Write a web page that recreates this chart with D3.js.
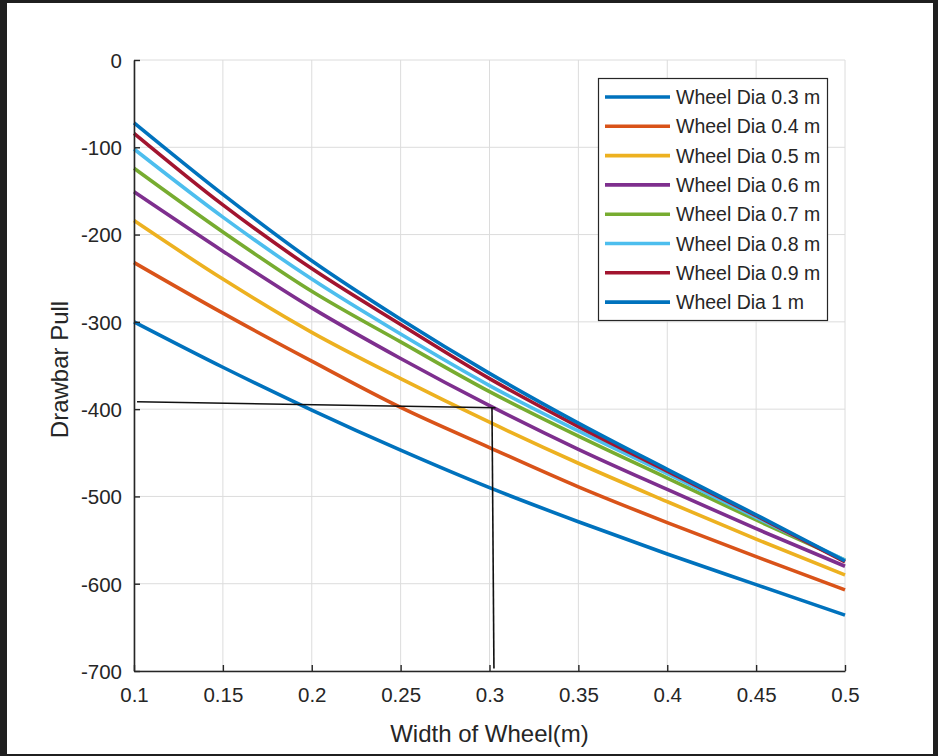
<!DOCTYPE html>
<html>
<head>
<meta charset="utf-8">
<script src="https://cdn.jsdelivr.net/npm/d3@7"></script>
<style>
html,body{margin:0;padding:0;background:#1f1f1f;}
svg{display:block;}
text{font-family:"Liberation Sans",Arial,sans-serif;fill:#262626;}
</style>
</head>
<body>
<svg id="chart" width="938" height="756"></svg>
<script>
// ---- data ----
const widths = [0.1, 0.15, 0.2, 0.25, 0.3, 0.35, 0.4, 0.45, 0.5];
const seriesNames = ["Wheel Dia 0.3 m","Wheel Dia 0.4 m","Wheel Dia 0.5 m","Wheel Dia 0.6 m","Wheel Dia 0.7 m","Wheel Dia 0.8 m","Wheel Dia 0.9 m","Wheel Dia 1 m"];
const dia03 = [-300, -352, -401, -447, -490, -529, -566, -601, -636];
const dia04 = [-232, -290, -345, -398, -444, -489, -530, -569, -607];
const dia05 = [-184, -251, -312, -365, -415, -462, -506, -549, -590];
const dia06 = [-151, -219, -284, -342, -396, -446, -492, -537, -580];
const dia07 = [-124, -197, -265, -323, -380, -431, -479, -527, -573];
const dia08 = [-102, -180, -251, -314, -373, -425, -474, -524, -573];
const dia09 = [-84, -166, -239, -303, -365, -420, -471, -522, -575];
const dia10 = [-72, -154, -230, -297, -359, -416, -469, -521, -574];
const seriesValues = [dia03, dia04, dia05, dia06, dia07, dia08, dia09, dia10];
const xTicks = [0.1, 0.15, 0.2, 0.25, 0.3, 0.35, 0.4, 0.45, 0.5];
const xTickLabels = ["0.1","0.15","0.2","0.25","0.3","0.35","0.4","0.45","0.5"];
const yTicks = [0, -100, -200, -300, -400, -500, -600, -700];
const yTickLabels = ["0","-100","-200","-300","-400","-500","-600","-700"];
// annotation guide lines (data coordinates)
const guideH = [[0.1017, -391.5], [0.3034, -398.4]];
const guideV = [[0.3014, -398.0], [0.3025, -697.0]];
const xLabel = "Width of Wheel(m)";
const yLabel = "Drawbar Pull";

// ---- styles ----
const colors = ["#0072BD","#D95319","#EDB120","#7E2F8E","#77AC30","#4DBEEE","#A2142F","#0072BD"];
const svg = d3.select("#chart");
svg.append("rect").attr("x",7).attr("y",3).attr("width",926).attr("height",751).attr("fill","#ffffff");

const L = 134, R = 845, T = 60, B = 671;
const x = d3.scaleLinear().domain([0.1, 0.5]).range([L, R]);
const y = d3.scaleLinear().domain([-700, 0]).range([B, T]);

// grid
const grid = svg.append("g");
grid.selectAll("line.gx").data(xTicks).join("line")
  .attr("x1", d => x(d)).attr("x2", d => x(d)).attr("y1", T).attr("y2", B)
  .attr("stroke", "#dcdcdc").attr("stroke-width", 1);
grid.selectAll("line.gy").data(yTicks).join("line")
  .attr("x1", L).attr("x2", R).attr("y1", d => y(d)).attr("y2", d => y(d))
  .attr("stroke", "#dcdcdc").attr("stroke-width", 1);

// series
const line = d3.line().x(d => x(d[0])).y(d => y(d[1])).curve(d3.curveMonotoneX);
seriesValues.forEach((vals, i) => {
  svg.append("path")
    .datum(widths.map((w, j) => [w, vals[j]]))
    .attr("d", line)
    .attr("fill", "none")
    .attr("stroke", colors[i])
    .attr("stroke-width", 3.6)
    .attr("stroke-linejoin", "round");
});

// guide lines
[guideH, guideV].forEach(g => {
  svg.append("path").datum(g).attr("d", d3.line().x(d => x(d[0])).y(d => y(d[1])))
    .attr("stroke", "#111").attr("stroke-width", 1.6).attr("fill", "none");
});

// axes
const xAxis = d3.axisBottom(x).tickValues(xTicks).tickFormat((d, i) => xTickLabels[i]).tickSizeInner(-6).tickSizeOuter(0).tickPadding(16);
const yAxis = d3.axisLeft(y).tickValues(yTicks).tickFormat((d, i) => yTickLabels[i]).tickSizeInner(-6).tickSizeOuter(0).tickPadding(12);
const gx = svg.append("g").attr("transform", `translate(0,${B})`).call(xAxis);
const gy = svg.append("g").attr("transform", `translate(${L},0)`).call(yAxis);
[gx, gy].forEach(g => {
  g.select(".domain").attr("stroke", "#262626").attr("stroke-width", 1.6);
  g.selectAll(".tick line").attr("stroke", "#262626").attr("stroke-width", 1.4);
  g.selectAll(".tick text").attr("fill", "#333").style("font-size", "20.5px").style("font-family", '"Liberation Sans",Arial,sans-serif');
});
gy.selectAll(".tick text").attr("dy", "0.36em");

// axis labels
svg.append("text").attr("x", (L + R) / 2).attr("y", 742).attr("text-anchor", "middle")
  .style("font-size", "24px").attr("fill", "#333").text(xLabel);
svg.append("text").attr("transform", `translate(68,${(T + B) / 2 + 4}) rotate(-90)`).attr("text-anchor", "middle")
  .style("font-size", "24px").attr("fill", "#333").text(yLabel);

// legend
const lg = svg.append("g");
lg.append("rect").attr("x", 598.5).attr("y", 78.5).attr("width", 229).attr("height", 242)
  .attr("fill", "#fff").attr("stroke", "#262626").attr("stroke-width", 1.2);
seriesNames.forEach((name, i) => {
  const cy = 97 + i * 29.3;
  lg.append("line").attr("x1", 605).attr("x2", 670).attr("y1", cy).attr("y2", cy)
    .attr("stroke", colors[i]).attr("stroke-width", 3.6);
  lg.append("text").attr("x", 676).attr("y", cy).attr("dy", "0.36em")
    .style("font-size", "19.5px").attr("fill", "#222").text(name);
});
</script>
</body>
</html>
